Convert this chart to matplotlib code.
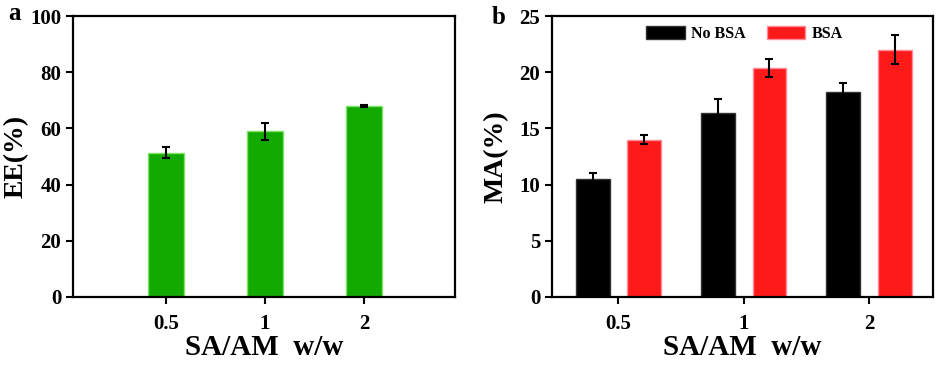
import matplotlib
matplotlib.use("Agg")
import matplotlib.pyplot as plt
import numpy as np

categories = ["0.5", "1", "2"]
ee_values = [51.3, 59.0, 68.0]
ee_err = [2.0, 3.0, 0.5]
ma_nobsa = [10.5, 16.4, 18.2]
ma_nobsa_err = [0.5, 1.2, 0.8]
ma_bsa = [14.0, 20.4, 22.0]
ma_bsa_err = [0.4, 0.8, 1.3]

plt.rcParams['font.family'] = ['Liberation Serif', 'DejaVu Serif']
plt.rcParams['font.weight'] = 'bold'

fig = plt.figure(figsize=(9.41, 3.66), dpi=100)
W, H = 941, 366

def style(ax):
    for s in ax.spines.values():
        s.set_linewidth(1.6)
    ax.tick_params(axis='both', width=1.5, length=5, labelsize=15, direction='out')
    ax.tick_params(axis='x', pad=7)
    for lab in ax.get_xticklabels() + ax.get_yticklabels():
        lab.set_fontweight('bold')

# Panel a
axa = fig.add_axes([73/W, 1-297/H, (455-73)/W, (297-16)/H])
x = np.arange(len(categories))
axa.bar(x, ee_values, width=0.37, color='#12AA00', edgecolor='#7FE36A', linewidth=1.0, zorder=2)
axa.errorbar(x, ee_values, yerr=ee_err, fmt='none', ecolor='black', elinewidth=1.5, capsize=3, capthick=1.5, zorder=3)
axa.set_xlim(-0.94, 2.92)
axa.set_ylim(0, 100)
axa.set_yticks([0, 20, 40, 60, 80, 100])
axa.set_xticks(x)
axa.set_xticklabels(categories)
axa.set_ylabel('EE(%)', fontsize=20, fontweight='bold', va='center')
axa.yaxis.set_label_coords(-0.149, 0.5)
axa.set_xlabel('SA/AM  w/w', fontsize=21, fontweight='bold', labelpad=0)
style(axa)
fig.text(8/W, 1-14/H, 'a', fontsize=18, fontweight='bold', va='center', ha='left')

# Panel b
axb = fig.add_axes([552/W, 1-297/H, (933-552)/W, (297-16)/H])
off = 0.205
bw = 0.27
axb.bar(x - off, ma_nobsa, width=bw, color='black', edgecolor='#333333', linewidth=1.0, label='No BSA', zorder=2)
axb.bar(x + off, ma_bsa, width=bw, color='#FF1A1A', edgecolor='#FF8A9A', linewidth=1.0, label='BSA', zorder=2)
axb.errorbar(x - off, ma_nobsa, yerr=ma_nobsa_err, fmt='none', ecolor='black', elinewidth=1.5, capsize=3, capthick=1.5, zorder=3)
axb.errorbar(x + off, ma_bsa, yerr=ma_bsa_err, fmt='none', ecolor='black', elinewidth=1.5, capsize=3, capthick=1.5, zorder=3)
axb.set_xlim(-0.53, 2.51)
axb.set_ylim(0, 25)
axb.set_yticks([0, 5, 10, 15, 20, 25])
axb.set_xticks(x)
axb.set_xticklabels(categories)
axb.set_ylabel('MA(%)', fontsize=20, fontweight='bold', va='center')
axb.yaxis.set_label_coords(-0.147, 0.5)
axb.set_xlabel('SA/AM  w/w', fontsize=21, fontweight='bold', labelpad=0)
style(axb)
axb.legend(loc='upper center', bbox_to_anchor=(0.505, 1.015), ncol=2, frameon=False,
           prop={'weight': 'bold', 'size': 11.5}, handlelength=2.4, handleheight=0.9,
           columnspacing=1.3, handletextpad=0.4)
fig.text(492/W, 1-17/H, 'b', fontsize=18, fontweight='bold', va='center', ha='left')

fig.savefig('out.png', dpi=100)
